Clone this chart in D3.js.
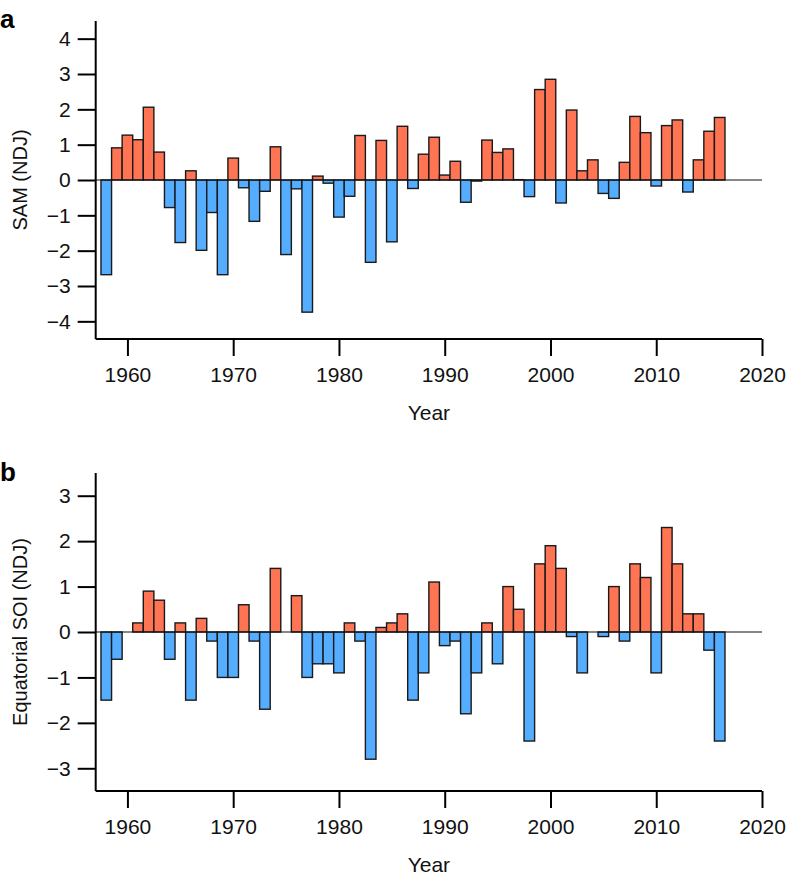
<!DOCTYPE html>
<html>
<head>
<meta charset="utf-8">
<script src="https://cdn.jsdelivr.net/npm/d3@7"></script>
<style>
  body { margin: 0; background: #fff; }
  svg { display: block; font-family: "Liberation Sans", Arial, Helvetica, sans-serif; }
</style>
</head>
<body>
<svg id="chart" width="788" height="883"></svg>
<script>
const years = d3.range(1958, 2017);

const samValues = [
  -2.68, 0.91, 1.27, 1.14, 2.06, 0.79, -0.78, -1.77, 0.26, -1.99,
  -0.92, -2.68, 0.62, -0.22, -1.17, -0.32, 0.94, -2.11, -0.25, -3.74,
  0.11, -0.09, -1.05, -0.46, 1.26, -2.33, 1.12, -1.75, 1.52, -0.24,
  0.73, 1.21, 0.14, 0.53, -0.63, -0.03, 1.13, 0.78, 0.88, 0.01,
  -0.47, 2.56, 2.85, -0.65, 1.98, 0.26, 0.57, -0.38, -0.52, 0.50,
  1.80, 1.34, -0.17, 1.54, 1.70, -0.34, 0.57, 1.38, 1.77
];

const soiValues = [
  -1.5, -0.6, 0.0, 0.2, 0.9, 0.7, -0.6, 0.2, -1.5, 0.3,
  -0.2, -1.0, -1.0, 0.6, -0.2, -1.7, 1.4, 0.0, 0.8, -1.0,
  -0.7, -0.7, -0.9, 0.2, -0.2, -2.8, 0.1, 0.2, 0.4, -1.5,
  -0.9, 1.1, -0.3, -0.2, -1.8, -0.9, 0.2, -0.7, 1.0, 0.5,
  -2.4, 1.5, 1.9, 1.4, -0.1, -0.9, 0.0, -0.1, 1.0, -0.2,
  1.5, 1.2, -0.9, 2.3, 1.5, 0.4, 0.4, -0.4, -2.4
];

const xTicks = [1960, 1970, 1980, 1990, 2000, 2010, 2020];
const samTicks = [-4, -3, -2, -1, 0, 1, 2, 3, 4];
const soiTicks = [-3, -2, -1, 0, 1, 2, 3];

const posColor = "#FF7452";
const negColor = "#55ADFF";

const svg = d3.select("#chart");
const x = d3.scaleLinear().domain([1957, 2020]).range([95.7, 762]);
const barW = x(1959) - x(1958);
const fs = 21;

function panel(opts) {
  const { values, yDomain, yRange, ticks, letter, letterY, title, xTitleY } = opts;
  const y = d3.scaleLinear().domain(yDomain).range(yRange);
  const g = svg.append("g");
  const data = years.map((yr, i) => ({ yr, v: values[i] }));

  // bars
  g.selectAll("rect.bar").data(data.filter(d => d.v !== 0)).join("rect")
    .attr("class", "bar")
    .attr("x", d => x(d.yr) - barW / 2)
    .attr("width", barW)
    .attr("y", d => Math.min(y(d.v), y(0)))
    .attr("height", d => Math.abs(y(d.v) - y(0)))
    .attr("fill", d => d.v > 0 ? posColor : negColor)
    .attr("stroke", "#1a1a1a")
    .attr("stroke-width", 1.4);

  // zero line
  g.append("line")
    .attr("x1", x(1957)).attr("x2", x(2020))
    .attr("y1", y(0)).attr("y2", y(0))
    .attr("stroke", "#111").attr("stroke-width", 1.2);

  // y axis
  const yAxis = d3.axisLeft(y).tickValues(ticks).tickSize(18).tickPadding(7)
    .tickFormat(d => d < 0 ? "\u2212" + Math.abs(d) : d);
  const ya = g.append("g").attr("transform", `translate(${x(1957)},0)`).call(yAxis);
  ya.select(".domain").attr("d", `M0,${yRange[1]}V${yRange[0]}`).attr("stroke-width", 2);
  ya.selectAll(".tick line").attr("stroke-width", 2);
  ya.selectAll("text").attr("font-size", fs).attr("fill", "#111")
    .attr("font-family", "'Liberation Sans', Arial, sans-serif");

  // x axis
  const xAxis = d3.axisBottom(x).tickValues(xTicks).tickSize(17).tickPadding(11)
    .tickFormat(d3.format("d"));
  const xa = g.append("g").attr("transform", `translate(0,${yRange[0]})`).call(xAxis);
  xa.select(".domain").attr("d", `M${x(1957)},0H${x(2020)}`).attr("stroke-width", 2);
  xa.selectAll(".tick line").attr("stroke-width", 2);
  xa.selectAll("text").attr("font-size", fs).attr("fill", "#111")
    .attr("font-family", "'Liberation Sans', Arial, sans-serif");

  // axis titles
  g.append("text")
    .attr("x", (x(1957) + x(2020)) / 2).attr("y", xTitleY)
    .attr("text-anchor", "middle").attr("font-size", fs).attr("fill", "#111")
    .text("Year");
  const cy = (yRange[0] + yRange[1]) / 2;
  g.append("text")
    .attr("transform", `translate(22,${cy}) rotate(-90)`)
    .attr("text-anchor", "middle").attr("dominant-baseline", "middle")
    .attr("font-size", fs - 1).attr("fill", "#111")
    .text(title);

  // panel letter
  g.append("text")
    .attr("x", 0).attr("y", letterY)
    .attr("font-size", 26).attr("font-weight", "bold").attr("fill", "#000")
    .text(letter);
}

panel({
  values: samValues, yDomain: [-4.5, 4.5], yRange: [339, 21],
  ticks: samTicks, letter: "a", letterY: 28, title: "SAM (NDJ)", xTitleY: 420
});

panel({
  values: soiValues, yDomain: [-3.5, 3.5], yRange: [791, 473],
  ticks: soiTicks, letter: "b", letterY: 481, title: "Equatorial SOI (NDJ)", xTitleY: 872
});
</script>
</body>
</html>
